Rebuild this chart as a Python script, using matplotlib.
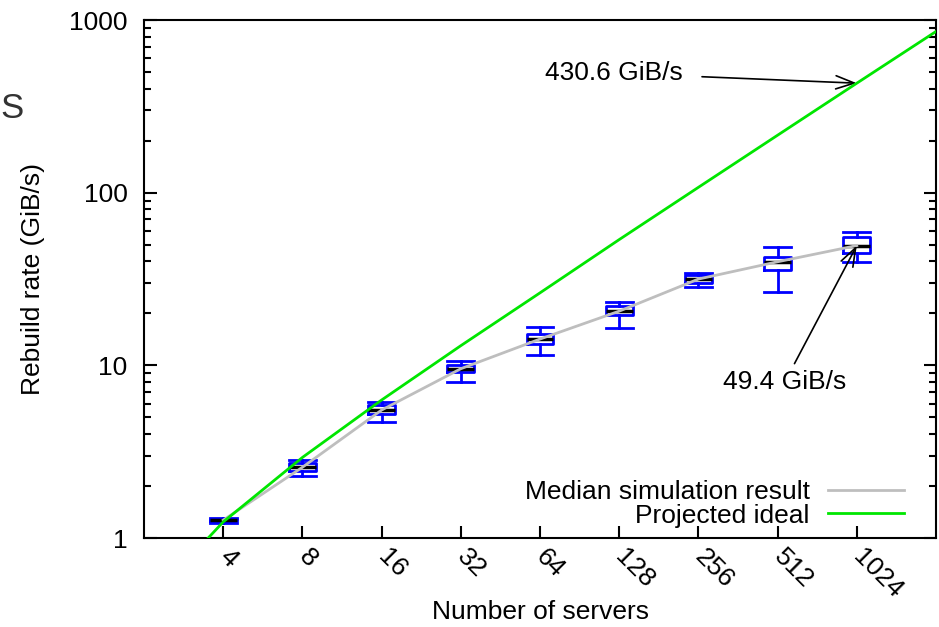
import numpy as np
import matplotlib
matplotlib.use('Agg')
import matplotlib.pyplot as plt
from matplotlib.ticker import FixedLocator, FixedFormatter, LogLocator, NullFormatter

plt.rcParams['font.family'] = ['Liberation Sans', 'DejaVu Sans']
plt.rcParams['font.size'] = 19

# simulated rebuild rate per cluster size (GiB/s)
servers = [4, 8, 16, 32, 64, 128, 256, 512, 1024]
whisker_low = [1.22, 2.29, 4.71, 8.04, 11.5, 16.4, 28.5, 26.7, 39.8]
q1 = [1.25, 2.45, 5.23, 9.18, 13.3, 19.6, 30.1, 35.6, 44.9]
median = [1.27, 2.57, 5.51, 9.56, 14.2, 20.6, 31.6, 39.8, 49.4]
q3 = [1.29, 2.73, 5.89, 10.0, 15.2, 22.0, 33.3, 42.5, 55.6]
whisker_high = [1.31, 2.83, 6.15, 10.6, 16.7, 23.2, 34.4, 48.6, 59.4]

# projected ideal
ideal_servers = [2, 4, 8, 16, 32, 64, 128, 256, 512, 1024, 2048]
ideal_rate = [0.40, 1.24, 2.93, 6.3, 13.0, 26.3, 53.5, 107.4, 215.2, 430.6, 858.0]

pos = np.log2(servers)

fig = plt.figure(figsize=(9.39, 6.27), dpi=100)
ax = fig.add_axes([0.1534, 0.1419, 0.8434, 0.8262])

stats = []
for i in range(len(servers)):
    stats.append(dict(med=median[i], q1=q1[i], q3=q3[i],
                      whislo=whisker_low[i], whishi=whisker_high[i], fliers=[]))

blue = '#0000ff'
ax.bxp(stats, positions=pos, widths=0.34, capwidths=0.34, showfliers=False,
       boxprops=dict(color=blue, lw=2),
       whiskerprops=dict(color=blue, lw=2),
       capprops=dict(color=blue, lw=2),
       medianprops=dict(color='black', lw=2.5),
       manage_ticks=False, zorder=2)

ax.plot(pos, median, color='#bebebe', lw=2, zorder=3, label='Median simulation result')
ax.plot(np.log2(ideal_servers), ideal_rate, color='#00e600', lw=2, zorder=4, label='Projected ideal')

ax.set_yscale('log')
ax.set_ylim(1, 1000)
ax.set_xlim(1, 11)

ax.xaxis.set_major_locator(FixedLocator(pos))
ax.xaxis.set_major_formatter(FixedFormatter([str(s) for s in servers]))
ax.yaxis.set_minor_locator(LogLocator(base=10, subs=np.arange(2, 10), numticks=10))
ax.yaxis.set_minor_formatter(NullFormatter())
ax.set_yticks([1, 10, 100, 1000])
ax.set_yticklabels(['1', '10', '100', '1000'])

ax.tick_params(axis='x', which='both', direction='in', length=9, width=1.5,
               top=False, pad=11)
ax.tick_params(axis='y', which='major', direction='in', length=9, width=1.5,
               right=True, pad=12)
ax.tick_params(axis='y', which='minor', direction='in', length=5, width=1.5,
               right=True)
for lbl in ax.get_xticklabels():
    lbl.set_rotation(-45)
    lbl.set_ha('left')
    lbl.set_va('center')
    lbl.set_rotation_mode('anchor')

for sp in ax.spines.values():
    sp.set_linewidth(1.5)

ax.set_xlabel('Number of servers')
ax.set_ylabel('Rebuild rate (GiB/s)')
ax.xaxis.set_label_coords(0.5, -0.12)
ax.yaxis.set_label_coords(-0.125, 0.5)

ax.annotate('430.6 GiB/s', xy=(np.log2(1024), 430.6), xytext=(7.8, 493),
            ha='right', va='center',
            arrowprops=dict(arrowstyle='->,head_length=0.7,head_width=0.25',
                            color='black', lw=1.2, shrinkA=12, shrinkB=0))
ax.annotate('49.4 GiB/s', xy=(np.log2(1024), 49.4), xytext=(9.09, 8.0),
            ha='center', va='center',
            arrowprops=dict(arrowstyle='->,head_length=0.7,head_width=0.25',
                            color='black', lw=1.2, shrinkA=3, shrinkB=0))

ax.legend(loc='lower right', bbox_to_anchor=(0.96, 0.02), frameon=False,
          markerfirst=False, borderaxespad=0, borderpad=0,
          handlelength=2.9, handletextpad=0.68, labelspacing=-0.02)

fig.text(0.0, 1 - 108 / 627, 'S', fontsize=25, color='#333333',
         ha='left', va='center')

fig.savefig('out.png', dpi=100)
